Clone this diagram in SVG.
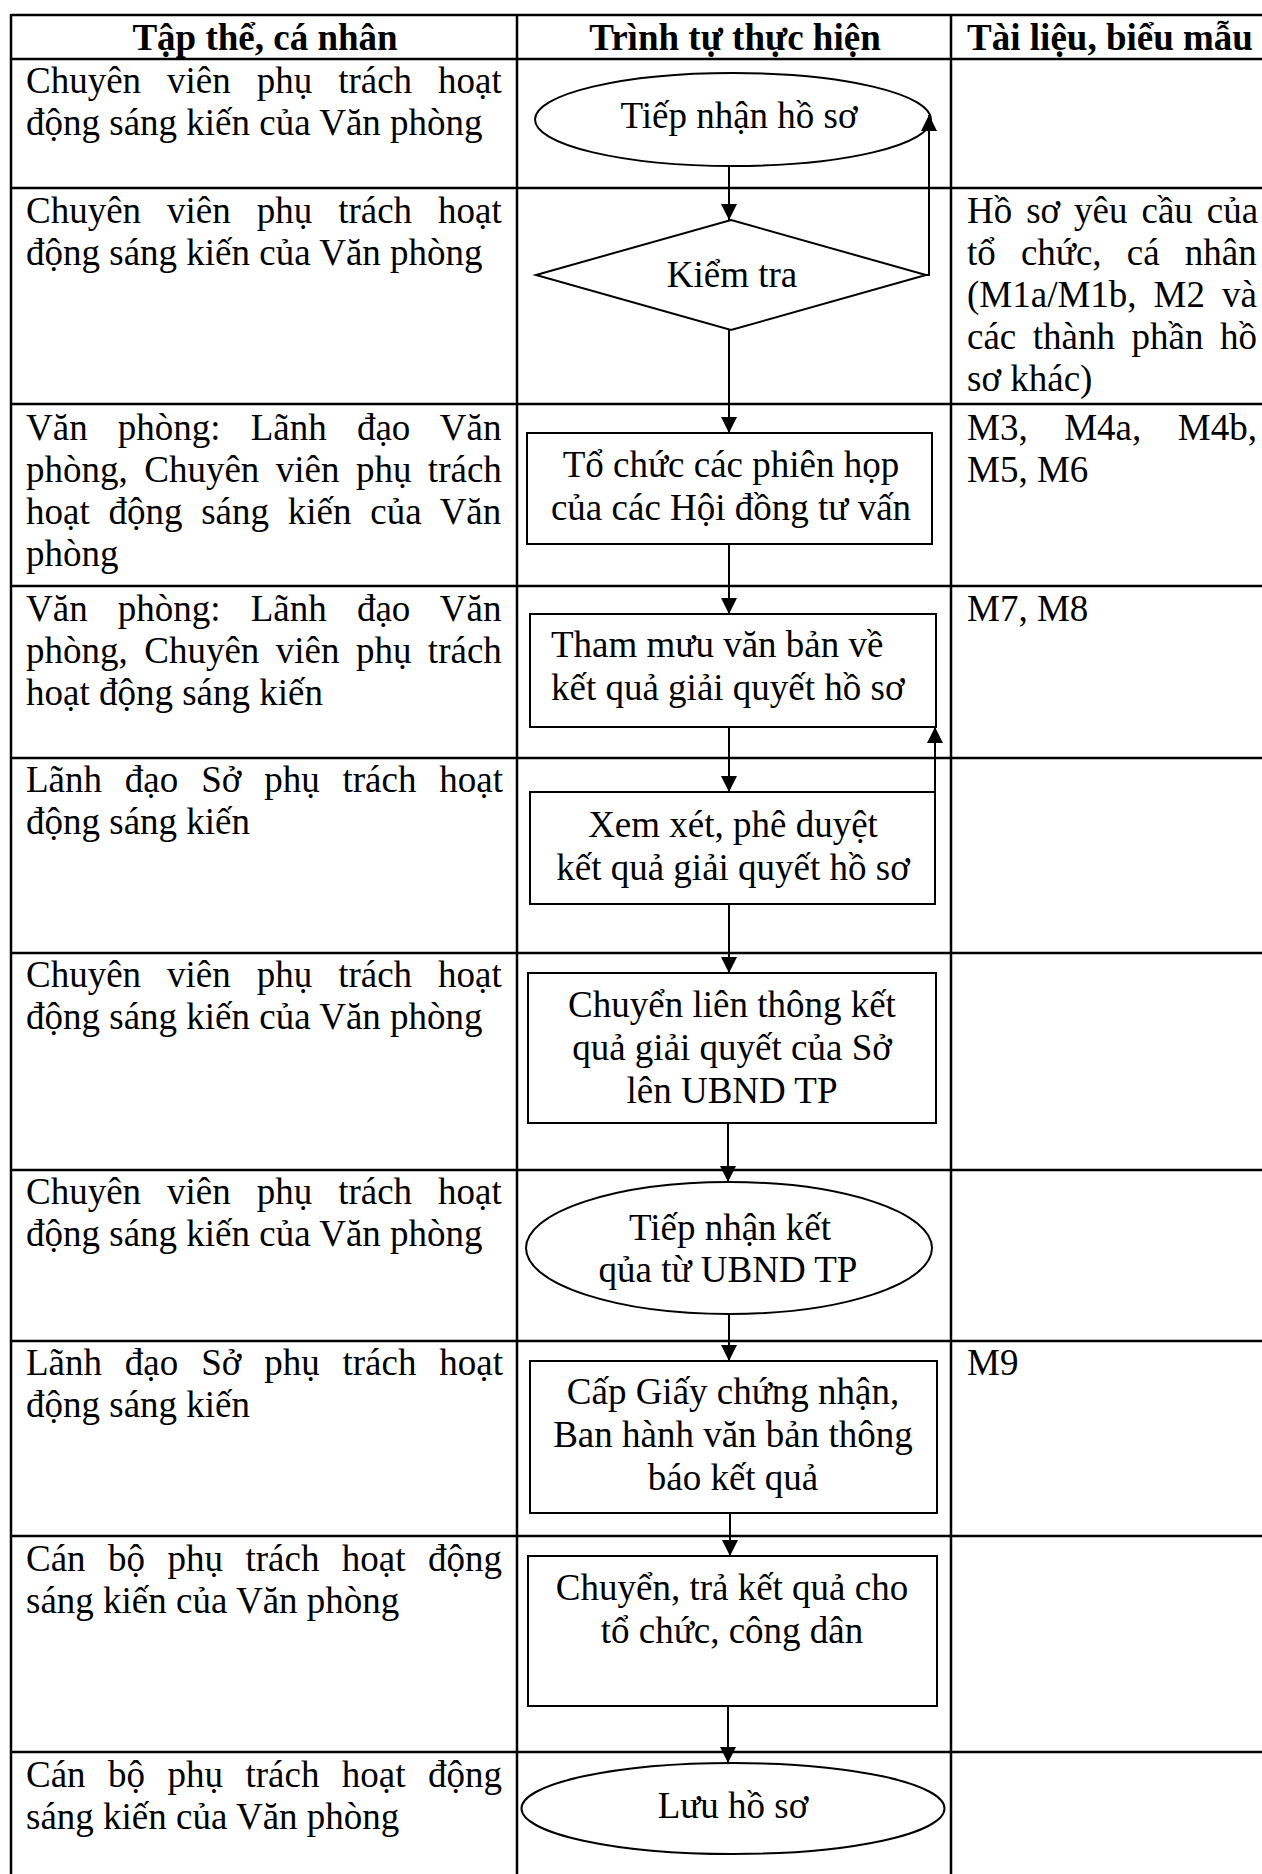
<svg xmlns="http://www.w3.org/2000/svg" width="1262" height="1874" viewBox="0 0 1262 1874">
<defs>
<style>
.t{font-family:"Liberation Serif","Times New Roman",serif;font-size:37px;fill:#000}
.h{font-weight:bold;text-anchor:middle}
.c{text-anchor:middle}
.grid{stroke:#000;stroke-width:2.5;fill:none}
.shape{fill:#fff;stroke:#000;stroke-width:2}
.conn{stroke:#000;stroke-width:2;fill:none}
</style>
<marker id="arr" markerUnits="userSpaceOnUse" markerWidth="16" markerHeight="16" refX="16" refY="8" orient="auto">
<path d="M0,0 L16,8 L0,16 z" fill="#000"/>
</marker>
</defs>
<rect x="0" y="0" width="1262" height="1874" fill="#fff"/>

<g id="table" class="grid">
<line x1="11" y1="15" x2="1262" y2="15"/>
<line x1="11" y1="59" x2="1262" y2="59"/>
<line x1="11" y1="188" x2="1262" y2="188"/>
<line x1="11" y1="404" x2="1262" y2="404"/>
<line x1="11" y1="586" x2="1262" y2="586"/>
<line x1="11" y1="758" x2="1262" y2="758"/>
<line x1="11" y1="953" x2="1262" y2="953"/>
<line x1="11" y1="1170" x2="1262" y2="1170"/>
<line x1="11" y1="1341" x2="1262" y2="1341"/>
<line x1="11" y1="1536" x2="1262" y2="1536"/>
<line x1="11" y1="1752" x2="1262" y2="1752"/>
<line x1="11" y1="14" x2="11" y2="1874"/>
<line x1="517" y1="14" x2="517" y2="1874"/>
<line x1="951" y1="14" x2="951" y2="1874"/>
</g>

<g id="header" class="t h">
<text x="265" y="50">Tập thể, cá nhân</text>
<text x="735" y="50">Trình tự thực hiện</text>
<text x="1110" y="50">Tài liệu, biểu mẫu</text>
</g>

<g id="actors" class="t">
<text x="26" y="93" style="word-spacing:16.7px">Chuyên viên phụ trách hoạt</text>
<text x="26" y="135">động sáng kiến của Văn phòng</text>
<text x="26" y="223" style="word-spacing:16.7px">Chuyên viên phụ trách hoạt</text>
<text x="26" y="265">động sáng kiến của Văn phòng</text>
<text x="26" y="440" style="word-spacing:20.9px">Văn phòng: Lãnh đạo Văn</text>
<text x="26" y="482" style="word-spacing:7.2px">phòng, Chuyên viên phụ trách</text>
<text x="26" y="524" style="word-spacing:9.5px">hoạt động sáng kiến của Văn</text>
<text x="26" y="566">phòng</text>
<text x="26" y="621" style="word-spacing:20.9px">Văn phòng: Lãnh đạo Văn</text>
<text x="26" y="663" style="word-spacing:7.2px">phòng, Chuyên viên phụ trách</text>
<text x="26" y="705">hoạt động sáng kiến</text>
<text x="26" y="792" style="word-spacing:13.6px">Lãnh đạo Sở phụ trách hoạt</text>
<text x="26" y="834">động sáng kiến</text>
<text x="26" y="987" style="word-spacing:16.7px">Chuyên viên phụ trách hoạt</text>
<text x="26" y="1029">động sáng kiến của Văn phòng</text>
<text x="26" y="1204" style="word-spacing:16.7px">Chuyên viên phụ trách hoạt</text>
<text x="26" y="1246">động sáng kiến của Văn phòng</text>
<text x="26" y="1375" style="word-spacing:13.6px">Lãnh đạo Sở phụ trách hoạt</text>
<text x="26" y="1417">động sáng kiến</text>
<text x="26" y="1571" style="word-spacing:13.2px">Cán bộ phụ trách hoạt động</text>
<text x="26" y="1613">sáng kiến của Văn phòng</text>
<text x="26" y="1787" style="word-spacing:13.2px">Cán bộ phụ trách hoạt động</text>
<text x="26" y="1829">sáng kiến của Văn phòng</text>
</g>

<g id="documents" class="t">
<text x="967" y="223" style="word-spacing:4.7px">Hồ sơ yêu cầu của</text>
<text x="967" y="265" style="word-spacing:15.9px">tổ chức, cá nhân</text>
<text x="967" y="307" style="word-spacing:7.8px">(M1a/M1b, M2 và</text>
<text x="967" y="349" style="word-spacing:7.3px">các thành phần hồ</text>
<text x="967" y="391">sơ khác)</text>
<text x="967" y="440" style="word-spacing:27.3px">M3, M4a, M4b,</text>
<text x="967" y="482">M5, M6</text>
<text x="967" y="621">M7, M8</text>
<text x="967" y="1375">M9</text>
</g>

<g id="n1">
<ellipse class="shape" cx="733" cy="119.5" rx="198" ry="46.5"/>
<text class="t c" x="739" y="128">Tiếp nhận hồ sơ</text>
</g>
<g id="n2">
<polygon class="shape" points="731,220 926,275 731,330 536,275"/>
<text class="t c" x="732" y="287">Kiểm tra</text>
</g>
<g id="n3">
<rect class="shape" x="527" y="433" width="405" height="111"/>
<text class="t c" x="731" y="477">Tổ chức các phiên họp</text>
<text class="t c" x="731" y="520">của các Hội đồng tư vấn</text>
</g>
<g id="n4">
<rect class="shape" x="530" y="614" width="406" height="113"/>
<text class="t" x="551" y="657">Tham mưu văn bản về</text>
<text class="t" x="551" y="700">kết quả giải quyết hồ sơ</text>
</g>
<g id="n5">
<rect class="shape" x="530" y="792" width="405" height="112"/>
<text class="t c" x="733" y="837">Xem xét, phê duyệt</text>
<text class="t c" x="733" y="880">kết quả giải quyết hồ sơ</text>
</g>
<g id="n6">
<rect class="shape" x="528" y="973" width="408" height="150"/>
<text class="t c" x="732" y="1017">Chuyển liên thông kết</text>
<text class="t c" x="732" y="1060">quả giải quyết của Sở</text>
<text class="t c" x="732" y="1103">lên UBND TP</text>
</g>
<g id="n7">
<ellipse class="shape" cx="729" cy="1248" rx="203" ry="66"/>
<text class="t c" x="730" y="1240">Tiếp nhận kết</text>
<text class="t c" x="728" y="1282">qủa từ UBND TP</text>
</g>
<g id="n8">
<rect class="shape" x="530" y="1361" width="407" height="152"/>
<text class="t c" x="733" y="1404">Cấp Giấy chứng nhận,</text>
<text class="t c" x="733" y="1447">Ban hành văn bản thông</text>
<text class="t c" x="733" y="1490">báo kết quả</text>
</g>
<g id="n9">
<rect class="shape" x="528" y="1556" width="409" height="150"/>
<text class="t c" x="732" y="1600">Chuyển, trả kết quả cho</text>
<text class="t c" x="732" y="1643">tổ chức, công dân</text>
</g>
<g id="n10">
<ellipse class="shape" cx="733" cy="1808.5" rx="211.5" ry="45.5"/>
<text class="t c" x="733" y="1818">Lưu hồ sơ</text>
</g>

<g id="connectors" class="conn">
<line x1="729" y1="166" x2="729" y2="220" marker-end="url(#arr)"/>
<polyline points="926,275 929,275 929,115" marker-end="url(#arr)"/>
<line x1="729" y1="330" x2="729" y2="433" marker-end="url(#arr)"/>
<line x1="729" y1="544" x2="729" y2="614" marker-end="url(#arr)"/>
<line x1="729" y1="727" x2="729" y2="792" marker-end="url(#arr)"/>
<line x1="935" y1="792" x2="935" y2="727" marker-end="url(#arr)"/>
<line x1="729" y1="904" x2="729" y2="973" marker-end="url(#arr)"/>
<line x1="728" y1="1123" x2="728" y2="1182" marker-end="url(#arr)"/>
<line x1="729" y1="1314" x2="729" y2="1361" marker-end="url(#arr)"/>
<line x1="730" y1="1513" x2="730" y2="1556" marker-end="url(#arr)"/>
<line x1="728" y1="1706" x2="728" y2="1763" marker-end="url(#arr)"/>
</g>
</svg>
